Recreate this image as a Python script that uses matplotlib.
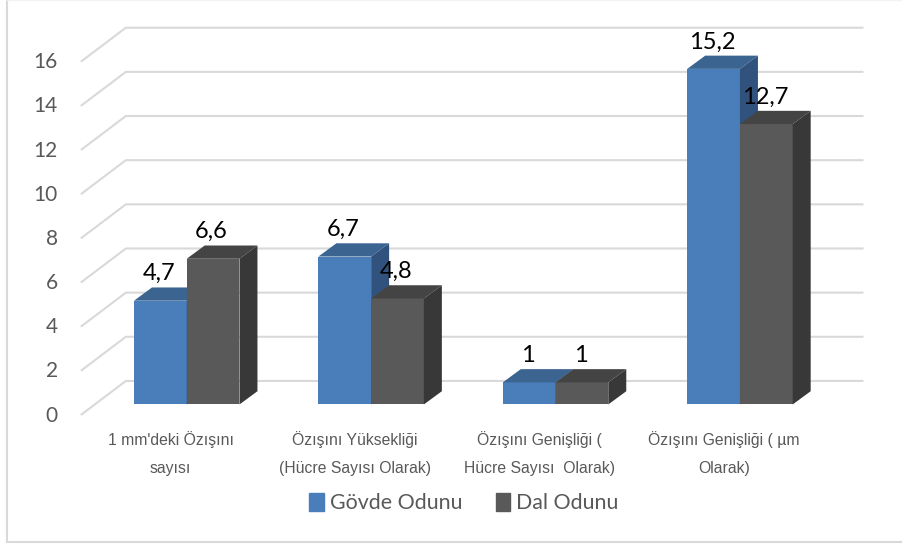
import matplotlib
matplotlib.use('Agg')
import matplotlib.pyplot as plt
from matplotlib.lines import Line2D
from matplotlib.patches import Polygon, Patch

categories = ["1 mm'deki Özışını\nsayısı",
              "Özışını Yüksekliği\n(Hücre Sayısı Olarak)",
              "Özışını Genişliği (\nHücre Sayısı  Olarak)",
              "Özışını Genişliği ( µm\nOlarak)"]
govde = [4.7, 6.7, 1, 15.2]
dal = [6.6, 4.8, 1, 12.7]
labels_govde = ['4,7', '6,7', '1', '15,2']
labels_dal = ['6,6', '4,8', '1', '12,7']
yticks = [0, 2, 4, 6, 8, 10, 12, 14, 16]

BLUE = ('#4a7ebb', '#3c6491', '#31527c')
DARK = ('#595959', '#444444', '#383838')
GREY = '#595959'
bar_w = 0.286
dx, dy = 0.0976, 0.60


def draw_bar(ax, left, value, cols):
    ax.bar(left, value, width=bar_w, align='edge', color=cols[0], zorder=3)
    top = [(left, value), (left + bar_w, value),
           (left + bar_w + dx, value + dy), (left + dx, value + dy)]
    side = [(left + bar_w, 0), (left + bar_w + dx, dy),
            (left + bar_w + dx, value + dy), (left + bar_w, value)]
    ax.add_patch(Polygon(top, closed=True, fc=cols[1], ec='none', zorder=3))
    ax.add_patch(Polygon(side, closed=True, fc=cols[2], ec='none', zorder=3))


fig = plt.figure(figsize=(9.02, 5.44), dpi=100)
ax = fig.add_axes([0, 0, 1, 1])
ax.set_xlim(-1.0125, 3.8788)
ax.set_ylim(-6.32, 18.32)
ax.axis('off')

# chart frame: only left and bottom edges show, top is very faint
frame_x = 7.5 / 902
frame_y = 1 - 541.5 / 544
fig.add_artist(Line2D([frame_x, frame_x], [frame_y, 1], color='#d9d9d9', lw=1.5))
fig.add_artist(Line2D([frame_x, 1], [frame_y, frame_y], color='#d9d9d9', lw=1.5))
fig.add_artist(Line2D([frame_x, 1], [0.9995, 0.9995], color='#f2f2f2', lw=1))

# gridlines run along the left wall then across the back
for t in yticks:
    ax.plot([-0.574, -0.33, 3.67], [t - 0.476, t + 1.065, t + 1.065],
            color='#d9d9d9', lw=1.5, zorder=1, solid_capstyle='butt')
    ax.text(-0.70, t - 0.5, str(t), ha='right', va='center',
            fontsize=15, color=GREY, family='Lato')

for i in range(len(categories)):
    draw_bar(ax, i - bar_w, govde[i], BLUE)
    draw_bar(ax, i, dal[i], DARK)
    ax.text(i - bar_w / 2 - 0.008, govde[i] + 1.22, labels_govde[i], ha='center', va='center',
            fontsize=17, color='black', family='Lato', zorder=5)
    ax.text(i + bar_w / 2 - 0.008, dal[i] + 1.22, labels_dal[i], ha='center', va='center',
            fontsize=17, color='black', family='Lato', zorder=5)
    ax.text(i - 0.087, -2.24, categories[i], ha='center', va='center', fontsize=11.3,
            color=GREY, family='Liberation Sans', linespacing=2.1)

handles = [Patch(color=BLUE[0], label='Gövde Odunu'), Patch(color=DARK[0], label='Dal Odunu')]
ax.legend(handles=handles, loc='center', bbox_to_anchor=(464 / 902, 1 - 503 / 544), ncol=2,
          frameon=False, handlelength=0.66, handleheight=0.95, handletextpad=0.3, columnspacing=1.55,
          prop={'family': 'Lato', 'size': 15.4}, labelcolor=GREY)

fig.savefig('out.png', dpi=100)
